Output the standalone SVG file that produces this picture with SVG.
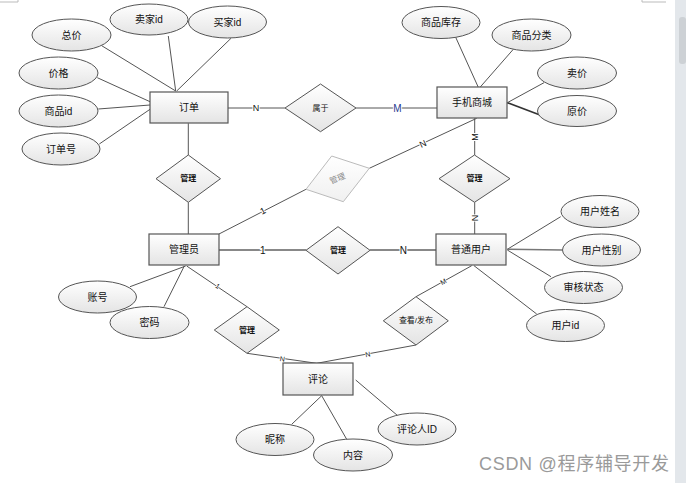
<svg xmlns="http://www.w3.org/2000/svg" width="686" height="483" viewBox="0 0 686 483">
<defs>
<linearGradient id="g" x1="0" y1="0" x2="0" y2="1">
<stop offset="0" stop-color="#ffffff"/>
<stop offset="1" stop-color="#e4e4e4"/>
</linearGradient>
<linearGradient id="gf" x1="0" y1="0" x2="0" y2="1">
<stop offset="0" stop-color="#ffffff"/>
<stop offset="1" stop-color="#f0f0f0"/>
</linearGradient>
<style>
text{font-family:'Liberation Sans','Noto Sans CJK SC',sans-serif;fill:#111;text-anchor:middle;dominant-baseline:central}
.ent rect{fill:url(#g);stroke:#555;stroke-width:1.2}
.ent text{font-size:10px}
.att ellipse{fill:url(#g);stroke:#555;stroke-width:1}
.att text{font-size:10px}
.rel polygon{fill:url(#g);stroke:#555;stroke-width:1}
.rel text{font-size:8px;font-weight:bold}
.c line{stroke:#555;stroke-width:1}
.lb{font-size:9px;paint-order:stroke;stroke:#fff;stroke-width:2px}
.sm{font-size:7px;paint-order:stroke;stroke:#fff;stroke-width:1.5px}
</style>
</defs>
<rect width="686" height="483" fill="#fff"/>
<path d="M0 2H18V0M642 0V2H666" fill="none" stroke="#bbb" stroke-width="1"/>
<rect x="675" y="0" width="11" height="483" fill="#e3e7eb"/>
<rect x="679" y="17" width="7" height="47" rx="3" fill="#cdd1d5"/>

<g id="connectors" class="c">
<line x1="228" y1="108" x2="285" y2="108"/>
<line x1="356" y1="108" x2="437" y2="108"/>
<line x1="168.3" y1="36" x2="175.7" y2="91"/>
<line x1="231" y1="38.3" x2="176.7" y2="91"/>
<line x1="101.7" y1="45.7" x2="175.7" y2="91"/>
<line x1="97.3" y1="77.7" x2="150" y2="101.7"/>
<line x1="98.3" y1="109" x2="150" y2="105"/>
<line x1="99.3" y1="144" x2="150" y2="109.3"/>
<line x1="188.3" y1="123.3" x2="188.3" y2="155"/>
<line x1="188.3" y1="202.3" x2="188.3" y2="234"/>
<line x1="455.7" y1="37.3" x2="478.3" y2="87.3"/>
<line x1="513.3" y1="49.3" x2="480" y2="87.3"/>
<line x1="544" y1="82.7" x2="507.3" y2="102.7"/>
<line x1="540" y1="115" x2="507.3" y2="102.7" style="stroke-width:1.6;stroke:#333"/>
<line x1="476.7" y1="118.3" x2="369.3" y2="168.3"/>
<line x1="306" y1="189.3" x2="219" y2="234"/>
<line x1="474.7" y1="118.3" x2="474.7" y2="155"/>
<line x1="474.7" y1="202.3" x2="474.7" y2="234"/>
<line x1="219" y1="250" x2="306" y2="250" style="stroke:#888;stroke-width:2"/>
<line x1="370" y1="250" x2="436" y2="250" style="stroke:#888;stroke-width:2"/>
<line x1="130" y1="286.7" x2="185.7" y2="266"/>
<line x1="164" y1="306.7" x2="184.3" y2="266"/>
<line x1="186.7" y1="266" x2="247" y2="306.7"/>
<line x1="247" y1="353.3" x2="316.7" y2="363.3"/>
<line x1="471.7" y1="265.7" x2="416" y2="296.7"/>
<line x1="416" y1="345" x2="316.7" y2="363.3"/>
<line x1="560.7" y1="216.7" x2="507.3" y2="249.3"/>
<line x1="562.3" y1="250" x2="507.3" y2="249.3" style="stroke:#777;stroke-width:1.6"/>
<line x1="551" y1="276.7" x2="507.3" y2="250"/>
<line x1="536.7" y1="314" x2="474" y2="265.7"/>
<line x1="291.7" y1="424.3" x2="321.7" y2="395.7"/>
<line x1="346.7" y1="439.3" x2="321.7" y2="395.7"/>
<line x1="397.7" y1="415.7" x2="355.7" y2="380"/>
<text class="lb" x="256" y="108">N</text>
<text class="lb" x="397.5" y="108" style="fill:#1f3a8f;font-size:10px">M</text>
<text class="lb" x="423" y="144" transform="rotate(-25 423 144)">N</text>
<text class="lb" x="263" y="211" transform="rotate(-27 263 211)">1</text>
<text class="lb" x="475" y="137" transform="rotate(-90 475 137)">M</text>
<text class="lb" x="475" y="218" transform="rotate(-90 475 218)">N</text>
<text class="lb" x="262.7" y="250" style="font-size:10px">1</text>
<text class="lb" x="403.3" y="250" style="font-size:10px">N</text>
<text class="sm" x="217.7" y="286" transform="rotate(32 217.7 286)">1</text>
<text class="sm" x="282.3" y="359" transform="rotate(8 282.3 359)">N</text>
<text class="sm" x="443.3" y="281.7" transform="rotate(-29 443.3 281.7)">M</text>
<text class="sm" x="367.7" y="354.3" transform="rotate(-10.5 367.7 354.3)">N</text>
</g>

<g id="order" class="ent"><rect x="150" y="92" width="78" height="31"/><text x="189" y="107.5">订单</text></g>
<g id="mall" class="ent"><rect x="437" y="87" width="70" height="31"/><text x="472" y="102.5">手机商城</text></g>
<g id="admin" class="ent"><rect x="149" y="234" width="70" height="31"/><text x="184" y="249.5">管理员</text></g>
<g id="user" class="ent"><rect x="436" y="234" width="70" height="31"/><text x="471" y="249.5">普通用户</text></g>
<g id="comment" class="ent"><rect x="283" y="363" width="70" height="32"/><text x="318" y="379">评论</text></g>

<g id="a-total" class="att"><ellipse cx="71.5" cy="35" rx="39.5" ry="16"/><text x="71.5" y="35">总价</text></g>
<g id="a-seller" class="att"><ellipse cx="149" cy="19.5" rx="39" ry="15.5"/><text x="149" y="19.5">卖家id</text></g>
<g id="a-buyer" class="att"><ellipse cx="227.5" cy="22" rx="39" ry="16"/><text x="227.5" y="22">买家id</text></g>
<g id="a-price" class="att"><ellipse cx="58.5" cy="73" rx="39.5" ry="16"/><text x="58.5" y="73">价格</text></g>
<g id="a-gid" class="att"><ellipse cx="58.5" cy="111" rx="39.5" ry="16"/><text x="58.5" y="111">商品id</text></g>
<g id="a-ono" class="att"><ellipse cx="61" cy="149" rx="39" ry="16"/><text x="61" y="149">订单号</text></g>
<g id="a-stock" class="att"><ellipse cx="441" cy="22.5" rx="39" ry="16"/><text x="441" y="22.5">商品库存</text></g>
<g id="a-cat" class="att"><ellipse cx="531.5" cy="35" rx="39.5" ry="16"/><text x="531.5" y="35">商品分类</text></g>
<g id="a-sell" class="att"><ellipse cx="577" cy="73" rx="39.5" ry="16"/><text x="577" y="73">卖价</text></g>
<g id="a-orig" class="att"><ellipse cx="577" cy="111" rx="39.5" ry="15.5"/><text x="577" y="111">原价</text></g>
<g id="a-uname" class="att"><ellipse cx="600" cy="211.5" rx="39" ry="16"/><text x="600" y="211.5">用户姓名</text></g>
<g id="a-usex" class="att"><ellipse cx="601.5" cy="250" rx="39" ry="16"/><text x="601.5" y="250">用户性别</text></g>
<g id="a-audit" class="att"><ellipse cx="583.5" cy="287.5" rx="39" ry="16"/><text x="583.5" y="287.5">审核状态</text></g>
<g id="a-uid" class="att"><ellipse cx="565.5" cy="325.5" rx="39" ry="16"/><text x="565.5" y="325.5">用户id</text></g>
<g id="a-acct" class="att"><ellipse cx="97.5" cy="297" rx="39" ry="16"/><text x="97.5" y="297">账号</text></g>
<g id="a-pwd" class="att"><ellipse cx="149.5" cy="322.5" rx="39.5" ry="16"/><text x="149.5" y="322.5">密码</text></g>
<g id="a-nick" class="att"><ellipse cx="275" cy="439.5" rx="39" ry="16"/><text x="275" y="439.5">昵称</text></g>
<g id="a-content" class="att"><ellipse cx="353" cy="455" rx="39.5" ry="16"/><text x="353" y="455">内容</text></g>
<g id="a-cuid" class="att"><ellipse cx="417" cy="429" rx="39" ry="16"/><text x="417" y="429">评论人ID</text></g>

<g id="r-belong" class="rel"><polygon points="320.5,84 356,108 320.5,131.7 285,108"/><text x="320.5" y="108" style="font-weight:normal">属于</text></g>
<g id="r-m1" class="rel"><polygon points="188.3,155 220.5,178.7 188.3,202.3 156,178.7"/><text x="188.3" y="178.7">管理</text></g>
<g id="r-m2" class="rel"><polygon points="331.7,156 369.3,168.3 343.3,201.7 306,189.3" style="fill:url(#gf);stroke:#bbb"/><text x="337.6" y="178.8" transform="rotate(-22 337.6 178.8)" style="fill:#888;font-weight:normal">管理</text></g>
<g id="r-m3" class="rel"><polygon points="338,226.7 370,250.3 338,274 306,250.3"/><text x="338" y="250.3">管理</text></g>
<g id="r-m4" class="rel"><polygon points="474.5,155 510,178.7 474.5,202.3 439,178.7"/><text x="474.5" y="178.7">管理</text></g>
<g id="r-m5" class="rel"><polygon points="247,306.7 279.3,330 247,353.3 214.3,330"/><text x="247" y="330">管理</text></g>
<g id="r-view" class="rel"><polygon points="416,296.7 448.3,320.8 416,345 383.3,320.8"/><text x="416" y="320.8" style="font-weight:normal">查看/发布</text></g>

<text x="574" y="464" style="font-size:18px;fill:#9a9a9a" textLength="190">CSDN @程序辅导开发</text>
</svg>
